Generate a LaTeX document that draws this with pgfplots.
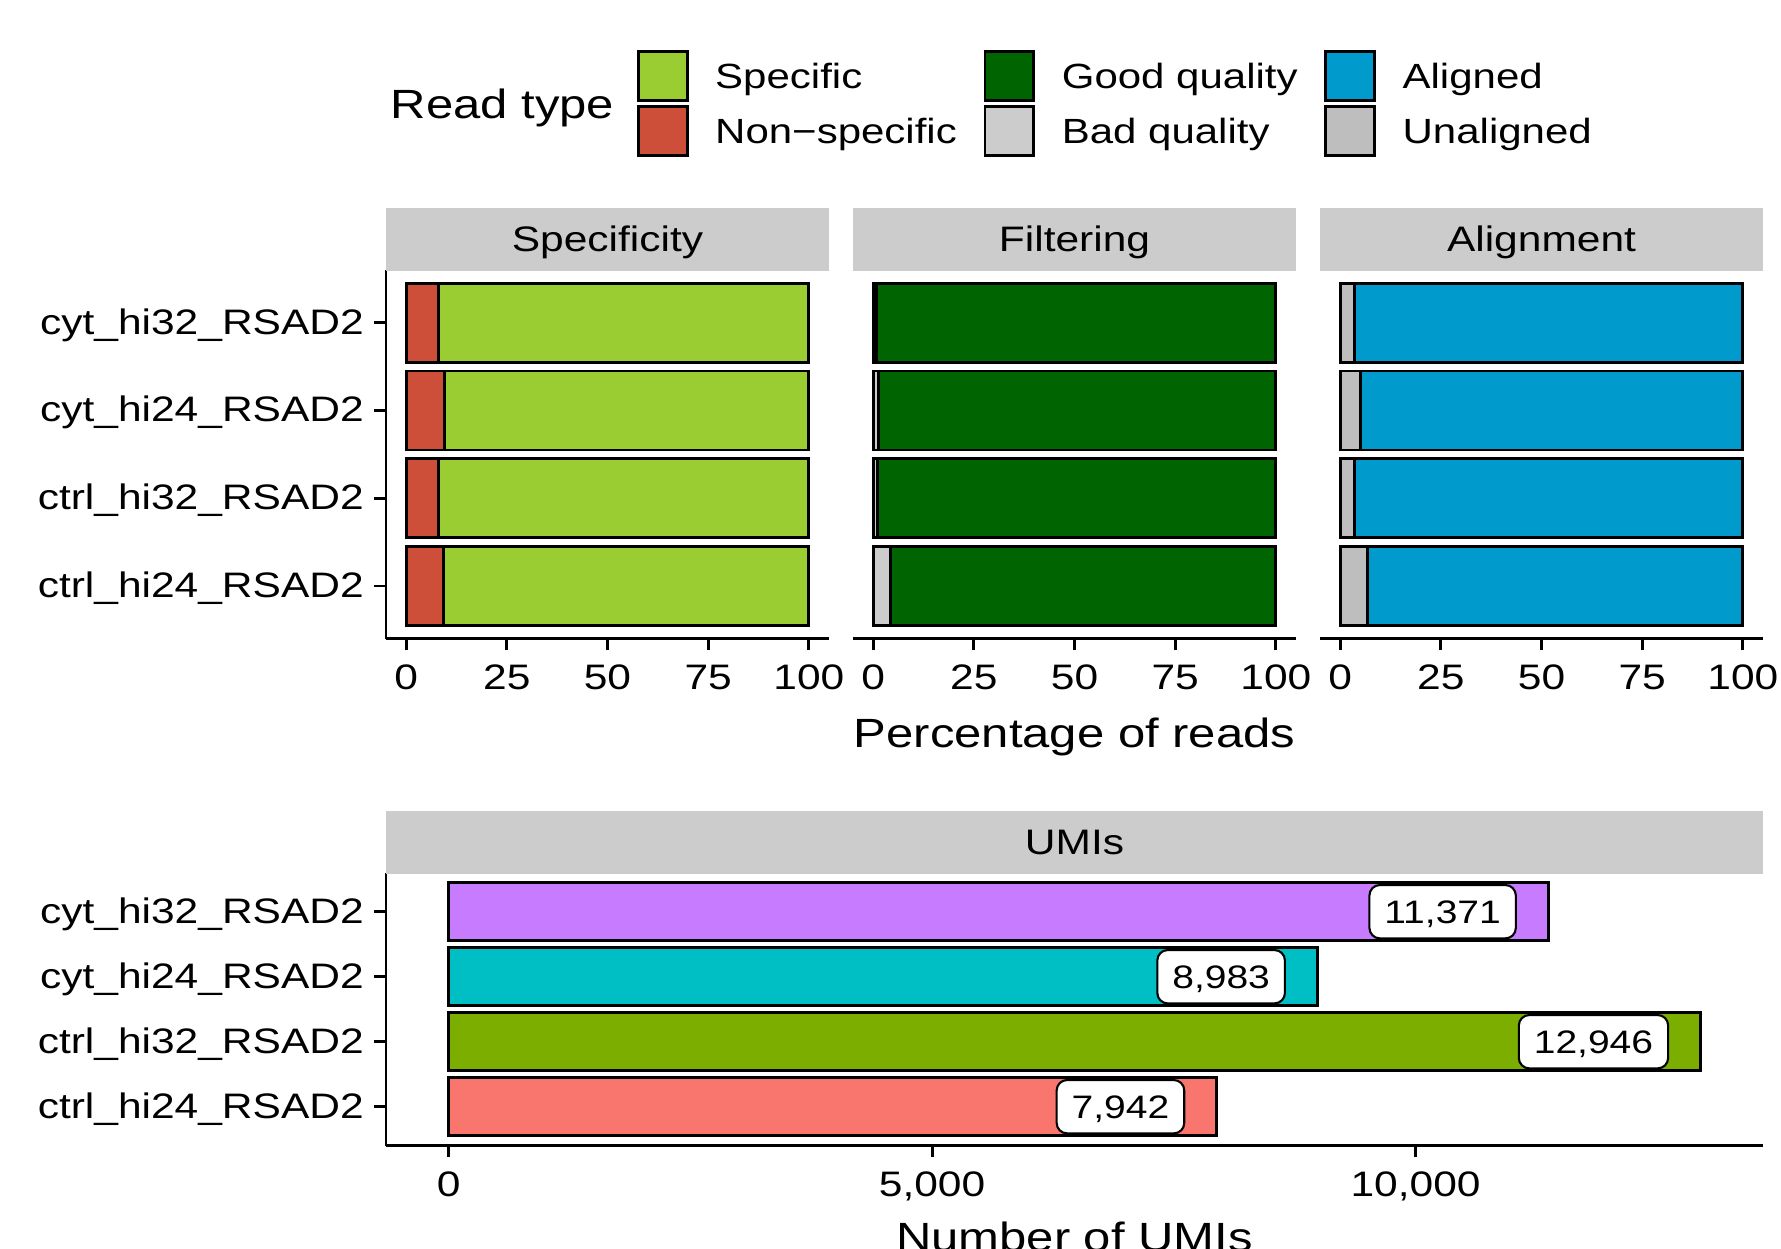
\documentclass[border=0pt]{standalone}
\usepackage{fontspec}
\setmainfont{Liberation Sans}[FakeStretch=1.2]
\usepackage{pgfplots}
\pgfplotsset{compat=1.18}
\usepackage{pgfplotstable}
\definecolor{nsred}{HTML}{CD4F39}
\definecolor{spgreen}{HTML}{9ACD32}
\definecolor{goodg}{HTML}{006400}
\definecolor{badg}{HTML}{CCCCCC}
\definecolor{alblue}{HTML}{009ACD}
\definecolor{unal}{HTML}{BEBEBE}
\definecolor{stripg}{HTML}{CCCCCC}
\definecolor{uA}{HTML}{C77CFF}
\definecolor{uB}{HTML}{00BFC4}
\definecolor{uC}{HTML}{7CAE00}
\definecolor{uD}{HTML}{F8766D}
\newcommand\tf{\fontsize{8.5bp}{10bp}\selectfont}
\newcommand\lgf{\fontsize{8.4bp}{10bp}\selectfont}
\newcommand\ttl{\fontsize{9.8bp}{12bp}\selectfont}
\newcommand\lbf{\fontsize{7.8bp}{9bp}\selectfont}

\pgfplotstableread{
y ns sp
4 8.1 91.9
3 9.5 90.5
2 8.1 91.9
1 9.2 90.8
}\spectab
\pgfplotstableread{
y bad good
4 0.9 99.1
3 1.4 98.6
2 1.0 99.0
1 4.2 95.8
}\filttab
\pgfplotstableread{
y un al
4 3.6 96.4
3 5.0 95.0
2 3.6 96.4
1 6.9 93.1
}\aligntab

\pgfplotsset{
  base/.style={scale only axis, anchor=south west, ymin=0.4, ymax=4.6,
    tick align=outside, major tick length=2.8bp,
    tick style={black, line width=0.7bp},
    axis line style={-, black, line width=0.7bp},
    x tick label style={font=\tf, inner sep=0pt, anchor=base, yshift=-9.5bp},
    y tick label style={font=\tf, inner sep=0pt, anchor=base east, xshift=-2.34bp, yshift=-2.75bp},
    title style={at={(0.5,1)}, anchor=south, fill=stripg, inner sep=0pt, outer sep=0pt,
      minimum height=15.12bp, text height=6.1bp, text depth=0.38bp, font=\tf, yshift=-6.27bp},
    xlabel style={at={(axis description cs:0.5,0)}, anchor=base, inner sep=0pt, font=\ttl},
    every axis plot/.append style={draw=black, line width=0.7bp},
    ytick={1,2,3,4},
    yticklabels={ctrl\_hi24\_RSAD2,ctrl\_hi32\_RSAD2,cyt\_hi24\_RSAD2,cyt\_hi32\_RSAD2},
  },
  top/.style={base, xbar stacked, bar width=0.9, width=106.32bp, height=88.47bp,
    xmin=-5, xmax=105, xtick={0,25,50,75,100}, xticklabels={0,25,50,75,100},
    title style={minimum width=106.32bp}, axis x line*=bottom},
  key/.style={legend image code/.code={\path[fill=none, draw=none] (-3.55bp,-6.6bp) rectangle (15.25bp,6.6bp);
    \draw[##1, line width=0.7bp] (0bp,-5.85bp) rectangle (11.7bp,5.85bp);}},
  lab/.style={nodes near coords={#1}, every node near coord/.append style={anchor=east,
    xshift=-7.5bp, fill=white, draw=black, line width=0.5bp, rounded corners=2.5bp,
    font=\lbf, inner xsep=3.6bp, inner ysep=3.6bp, text height=5.6bp, text depth=0pt}},
}

\begin{document}
\begin{tikzpicture}
\useasboundingbox (0,0) rectangle (427.44bp,299.76bp);

% legend only
\begin{axis}[scale only axis, anchor=south west, at={(92.64bp,146.48bp)},
  width=106.32bp, height=88.47bp, hide axis, xmin=0, xmax=1, ymin=0, ymax=1,
  legend columns=3,
  legend style={at={(0.5362,1.6015)}, anchor=north west, draw=none, fill=none,
    inner sep=0pt, outer sep=0pt, row sep=0pt, column sep=0pt, font=\lgf,
    nodes={inner xsep=3.2bp, inner ysep=0pt, text height=6.1bp, text depth=0pt},
    cells={anchor=west}},
  legend cell align=left]
\addlegendimage{key, fill=spgreen, draw=black}\addlegendentry{Specific}
\addlegendimage{key, fill=goodg, draw=black}\addlegendentry{Good quality}
\addlegendimage{key, fill=alblue, draw=black}\addlegendentry{Aligned}
\addlegendimage{key, fill=nsred, draw=black}\addlegendentry{Non−specific}
\addlegendimage{key, fill=badg, draw=black}\addlegendentry{Bad quality}
\addlegendimage{key, fill=unal, draw=black}\addlegendentry{Unaligned}
\end{axis}

\begin{axis}[top, at={(92.64bp,146.48bp)}, axis y line*=left, title={Specificity}]
\addplot[fill=nsred] table[x=ns, y=y]{\spectab};
\addplot[fill=spgreen] table[x=sp, y=y]{\spectab};
\end{axis}

\begin{axis}[top, at={(204.72bp,146.48bp)}, axis y line=none, ytick=\empty, title={Filtering},
  xlabel={Percentage of reads}, xlabel style={yshift=-26.2bp}]
\addplot[fill=badg] table[x=bad, y=y]{\filttab};
\addplot[fill=goodg] table[x=good, y=y]{\filttab};
\end{axis}

\begin{axis}[top, at={(316.8bp,146.48bp)}, axis y line=none, ytick=\empty, title={Alignment}]
\addplot[fill=unal] table[x=un, y=y]{\aligntab};
\addplot[fill=alblue] table[x=al, y=y]{\aligntab};
\end{axis}

\begin{axis}[base, xbar, bar width=0.9, bar shift=0pt, at={(92.64bp,24.79bp)},
  width=330.48bp, height=65.52bp, xmin=-647.3, xmax=13593.3,
  xtick={0,5000,10000}, xticklabels={0,{5,000},{10,000}}, scaled x ticks=false,
  axis x line*=bottom, axis y line*=left,
  title={UMIs}, title style={minimum width=330.48bp},
  xlabel={Number of UMIs}, xlabel style={yshift=-25.5bp}]
\addplot[fill=uA, bar shift=0pt, lab={11{,}371}] coordinates {(11371,4)};
\addplot[fill=uB, bar shift=0pt, lab={8{,}983}] coordinates {(8983,3)};
\addplot[fill=uC, bar shift=0pt, lab={12{,}946}] coordinates {(12946,2)};
\addplot[fill=uD, bar shift=0pt, lab={7{,}942}] coordinates {(7942,1)};
\end{axis}

\node[anchor=base west, inner sep=0pt, font=\ttl] at (93.6bp,271.3bp) {Read type};
\end{tikzpicture}
\end{document}
